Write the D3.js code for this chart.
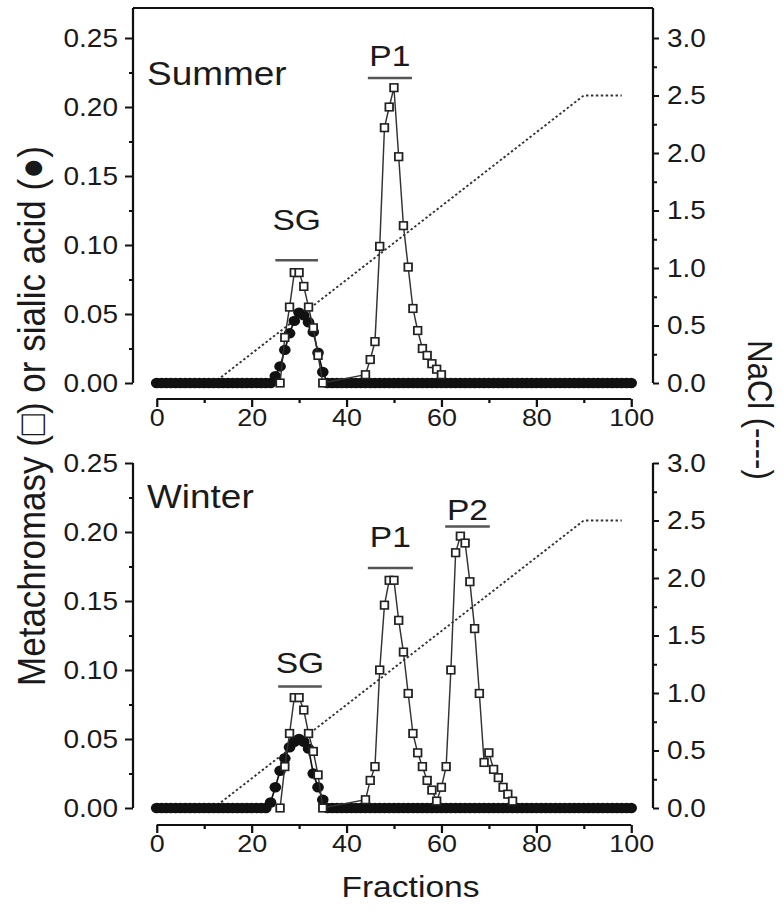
<!DOCTYPE html>
<html>
<head>
<meta charset="utf-8">
<script src="https://cdn.jsdelivr.net/npm/d3@7"></script>
<style>
  body { margin: 0; background: #fff; }
  text { font-family: "Liberation Sans", Arial, sans-serif; fill: #1a1a1a; }
</style>
</head>
<body>
<div id="chart"></div>
<script>
// ---- data ----
// sialic acid (filled circles), one value per fraction 0..100
const summerSialic = [
  0, 0, 0, 0, 0, 0, 0, 0, 0, 0,
  0, 0, 0, 0, 0, 0, 0, 0, 0, 0,
  0, 0, 0, 0, 0, 0.005, 0.012, 0.024, 0.036, 0.045,
  0.051, 0.049, 0.044, 0.037, 0.022, 0.008, 0, 0, 0, 0,
  0, 0, 0, 0, 0, 0, 0, 0, 0, 0,
  0, 0, 0, 0, 0, 0, 0, 0, 0, 0,
  0, 0, 0, 0, 0, 0, 0, 0, 0, 0,
  0, 0, 0, 0, 0, 0, 0, 0, 0, 0,
  0, 0, 0, 0, 0, 0, 0, 0, 0, 0,
  0, 0, 0, 0, 0, 0, 0, 0, 0, 0,
  0
];
const winterSialic = [
  0, 0, 0, 0, 0, 0, 0, 0, 0, 0,
  0, 0, 0, 0, 0, 0, 0, 0, 0, 0,
  0, 0, 0, 0, 0.004, 0.015, 0.027, 0.036, 0.044, 0.048,
  0.050, 0.048, 0.043, 0.025, 0.015, 0.006, 0, 0, 0, 0,
  0, 0, 0, 0, 0, 0, 0, 0, 0, 0,
  0, 0, 0, 0, 0, 0, 0, 0, 0, 0,
  0, 0, 0, 0, 0, 0, 0, 0, 0, 0,
  0, 0, 0, 0, 0, 0, 0, 0, 0, 0,
  0, 0, 0, 0, 0, 0, 0, 0, 0, 0,
  0, 0, 0, 0, 0, 0, 0, 0, 0, 0,
  0
];

// metachromasy (open squares)
const summerMetaFrac = [26, 27, 28, 29, 30, 31, 32, 33, 34, 35,
  44, 45, 46, 47, 48, 49, 50, 51, 52, 53, 54, 55, 56, 57, 58, 59, 60];
const summerMetaVal = [0, 0.033, 0.055, 0.080, 0.080, 0.070, 0.055, 0.040, 0.020, 0,
  0.006, 0.017, 0.030, 0.099, 0.185, 0.200, 0.214, 0.164, 0.114, 0.084, 0.054, 0.038,
  0.025, 0.020, 0.014, 0.010, 0.006];

const winterMetaFrac = [26, 27, 28, 29, 30, 31, 32, 33, 34, 35,
  44, 45, 46, 47, 48, 49, 50, 51, 52, 53, 54, 55, 56, 57, 58, 59,
  60, 61, 62, 63, 64, 65, 66, 67, 68, 69, 70, 71, 72, 73, 74, 75];
const winterMetaVal = [0, 0.030, 0.054, 0.080, 0.080, 0.071, 0.054, 0.041, 0.024, 0,
  0.006, 0.020, 0.030, 0.100, 0.147, 0.165, 0.165, 0.136, 0.113, 0.083, 0.054, 0.040,
  0.030, 0.020, 0.013, 0.005,
  0.015, 0.030, 0.100, 0.185, 0.197, 0.192, 0.164, 0.130, 0.083, 0.033, 0.040, 0.028,
  0.022, 0.015, 0.010, 0.005];

// NaCl gradient (dotted), same in both runs
const naclFrac = [12, 90, 98];
const naclVal = [0, 2.5, 2.5];

// peak annotations: name, bar from / to (fraction), bar level, label level
const summerPeaks = [
  { name: "SG", f0: 25.0, f1: 34.0, bar: 0.089, label: 0.111 },
  { name: "P1", f0: 44.5, f1: 53.8, bar: 0.221, label: 0.230 }
];
const winterPeaks = [
  { name: "SG", f0: 25.6, f1: 34.8, bar: 0.088, label: 0.098 },
  { name: "P1", f0: 44.5, f1: 54.0, bar: 0.174, label: 0.189 },
  { name: "P2", f0: 60.8, f1: 70.2, bar: 0.204, label: 0.209 }
];

// ticks
const xTicks = [0, 20, 40, 60, 80, 100];
const xMinor = [10, 30, 50, 70, 90];
const yTicks = [0, 0.05, 0.10, 0.15, 0.20, 0.25];
const yMinor = [0.025, 0.075, 0.125, 0.175, 0.225];
const naclTicks = [0, 0.5, 1.0, 1.5, 2.0, 2.5, 3.0];
const naclMinor = [0.25, 0.75, 1.25, 1.75, 2.25, 2.75];

// ---- layout ----
const W = 783, H = 914;
const SX = 1.12;               // picture is slightly wider than tall
const px = v => v / SX;

const svg = d3.select("#chart").append("svg")
    .attr("width", W)
    .attr("height", H);

const root = svg.append("g").attr("transform", `scale(${SX},1)`);

const x = d3.scaleLinear().domain([0, 100]).range([px(156.7), px(631.2)]);
const leftX = px(133);
const rightX = px(653);

const panels = [
  { title: "Summer", titleY: 85, zeroY: 383, topY: 38, frameY: 8, axisY: 399,
    sialic: summerSialic, metaFrac: summerMetaFrac, metaVal: summerMetaVal, peaks: summerPeaks },
  { title: "Winter", titleY: 508, zeroY: 808, topY: 463, frameY: null, axisY: 825,
    sialic: winterSialic, metaFrac: winterMetaFrac, metaVal: winterMetaVal, peaks: winterPeaks }
];

function styleAxis(sel, size) {
  sel.select(".domain").remove();
  sel.selectAll(".tick line").attr("stroke", "#111").attr("stroke-width", 2);
  sel.selectAll(".tick text").attr("font-size", size)
     .attr("font-family", "'Liberation Sans', Arial, sans-serif")
     .attr("fill", "#1a1a1a");
}

panels.forEach(p => {
  const g = root.append("g");
  const y = d3.scaleLinear().domain([0, 0.25]).range([p.zeroY, p.topY]);
  const yR = d3.scaleLinear().domain([0, 3]).range([p.zeroY, p.topY]);
  const axTop = p.frameY !== null ? p.frameY : p.topY;

  // left axis
  g.append("g").attr("transform", `translate(${leftX},0)`)
    .call(d3.axisLeft(y).tickValues(yMinor).tickSize(px(4)).tickFormat(""))
    .call(s => styleAxis(s, 25));
  g.append("g").attr("transform", `translate(${leftX},0)`)
    .call(d3.axisLeft(y).tickValues(yTicks).tickSize(px(8)).tickPadding(px(7))
      .tickFormat(d3.format(".2f")))
    .call(s => styleAxis(s, 25));

  // right axis
  g.append("g").attr("transform", `translate(${rightX},0)`)
    .call(d3.axisRight(yR).tickValues(naclMinor).tickSize(px(4)).tickFormat(""))
    .call(s => styleAxis(s, 25));
  g.append("g").attr("transform", `translate(${rightX},0)`)
    .call(d3.axisRight(yR).tickValues(naclTicks).tickSize(px(6)).tickPadding(px(8))
      .tickFormat(d3.format(".1f")))
    .call(s => styleAxis(s, 25));

  g.append("line").attr("x1", leftX).attr("x2", leftX)
    .attr("y1", axTop).attr("y2", p.zeroY)
    .attr("stroke", "#111").attr("stroke-width", 2);
  g.append("line").attr("x1", rightX).attr("x2", rightX)
    .attr("y1", axTop).attr("y2", p.zeroY)
    .attr("stroke", "#111").attr("stroke-width", 2);
  if (p.frameY !== null) {
    g.append("line").attr("x1", leftX).attr("x2", rightX)
      .attr("y1", p.frameY).attr("y2", p.frameY)
      .attr("stroke", "#111").attr("stroke-width", 2);
  }

  // x axis
  g.append("g").attr("transform", `translate(0,${p.axisY})`)
    .call(d3.axisBottom(x).tickValues(xMinor).tickSize(4).tickFormat(""))
    .call(s => styleAxis(s, 24));
  g.append("g").attr("transform", `translate(0,${p.axisY})`)
    .call(d3.axisBottom(x).tickValues(xTicks).tickSize(8).tickPadding(2))
    .call(s => styleAxis(s, 24));
  g.append("line").attr("x1", x(0)).attr("x2", x(100))
    .attr("y1", p.axisY).attr("y2", p.axisY)
    .attr("stroke", "#111").attr("stroke-width", 2);

  // NaCl gradient
  const nacl = naclFrac.map((f, i) => [f, naclVal[i]]);
  g.append("path").datum(nacl)
    .attr("d", d3.line().x(d => x(d[0])).y(d => yR(d[1])))
    .attr("fill", "none").attr("stroke", "#333")
    .attr("stroke-width", 1.8).attr("stroke-dasharray", "2.2,2.2");

  // sialic acid
  const sia = p.sialic.map((v, i) => [i, v]);
  g.append("path").datum(sia)
    .attr("d", d3.line().x(d => x(d[0])).y(d => y(d[1])))
    .attr("fill", "none").attr("stroke", "#111").attr("stroke-width", 1.5);
  g.selectAll("circle.sia").data(sia).enter().append("circle")
    .attr("class", "sia")
    .attr("cx", d => x(d[0])).attr("cy", d => y(d[1]))
    .attr("r", 5.2).attr("fill", "#111");

  // metachromasy
  const meta = p.metaFrac.map((f, i) => [f, p.metaVal[i]]);
  g.append("path").datum(meta)
    .attr("d", d3.line().x(d => x(d[0])).y(d => y(d[1])))
    .attr("fill", "none").attr("stroke", "#333").attr("stroke-width", 1.3);
  g.selectAll("rect.meta").data(meta).enter().append("rect")
    .attr("class", "meta")
    .attr("x", d => x(d[0]) - 3.4).attr("y", d => y(d[1]) - 3.8)
    .attr("width", 6.8).attr("height", 7.6)
    .attr("fill", "#fff").attr("stroke", "#222").attr("stroke-width", 1.6);

  // peak bars and names
  p.peaks.forEach(k => {
    g.append("line")
      .attr("x1", x(k.f0)).attr("x2", x(k.f1))
      .attr("y1", y(k.bar)).attr("y2", y(k.bar))
      .attr("stroke", "#555").attr("stroke-width", 2.5);
    g.append("text")
      .attr("x", x((k.f0 + k.f1) / 2)).attr("y", y(k.label))
      .attr("text-anchor", "middle").attr("font-size", 30)
      .text(k.name);
  });

  // season
  g.append("text").attr("x", px(147)).attr("y", p.titleY)
    .attr("font-size", 33).text(p.title);
});

// axis titles
root.append("text")
  .attr("transform", `translate(${px(45)},416) rotate(-90)`)
  .attr("text-anchor", "middle").attr("font-size", 35)
  .text("Metachromasy (\u25A1) or sialic acid (\u25CF)");

root.append("text")
  .attr("transform", `translate(${px(748)},410) rotate(90)`)
  .attr("text-anchor", "middle").attr("font-size", 31)
  .text("NaCl (----)");

root.append("text")
  .attr("x", px(410.5)).attr("y", 897)
  .attr("text-anchor", "middle").attr("font-size", 30)
  .text("Fractions");
</script>
</body>
</html>
